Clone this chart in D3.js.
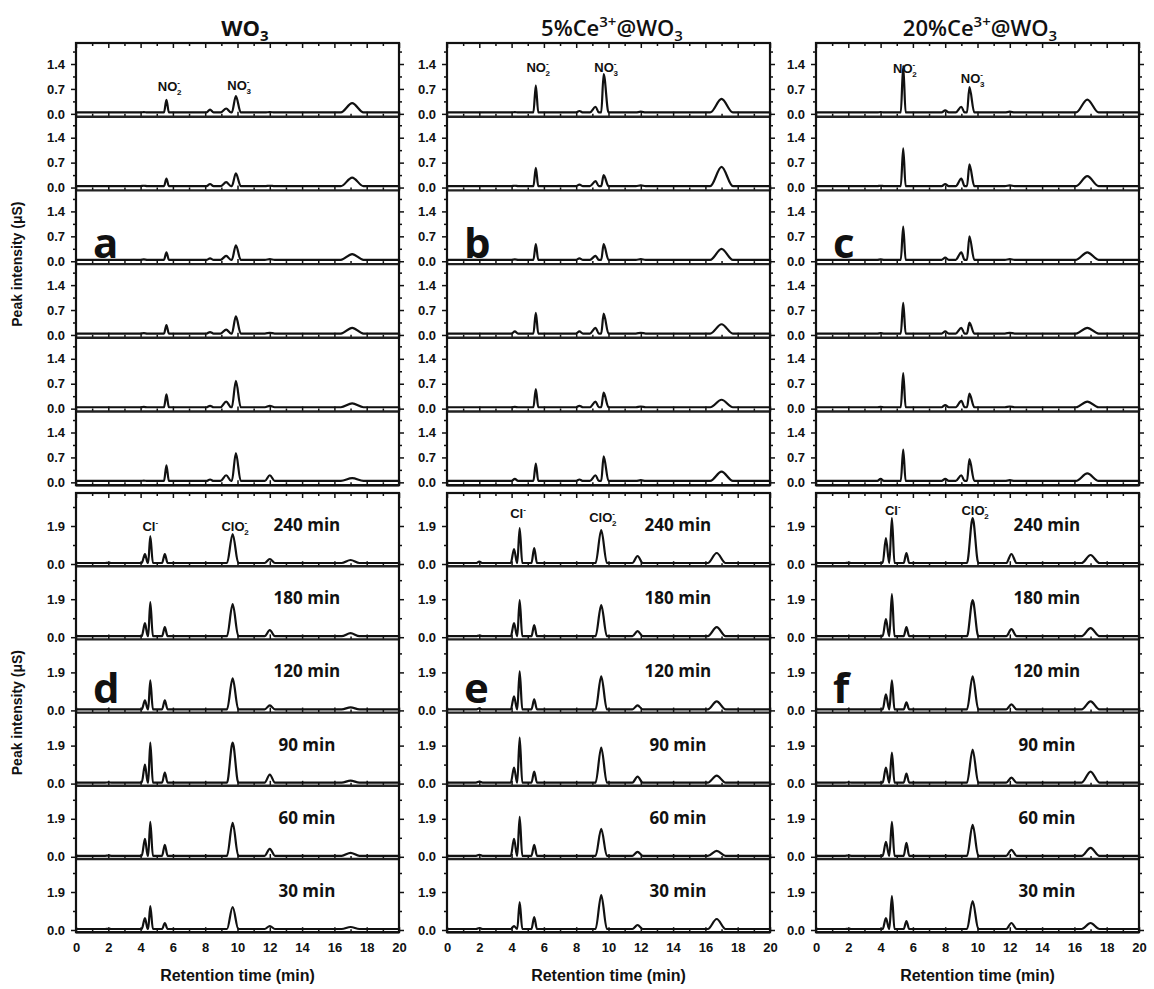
<!DOCTYPE html>
<html>
<head>
<meta charset="utf-8">
<script src="https://cdn.jsdelivr.net/npm/d3@7"></script>
<style>
  body { margin: 0; background: #fff; }
  svg { display: block; }
</style>
</head>
<body>
<svg id="chart" width="1154" height="989"></svg>
<script>
// ---- Datos ----
var xTicks = [0, 2, 4, 6, 8, 10, 12, 14, 16, 18, 20];
var xMinor = [1, 3, 5, 7, 9, 11, 13, 15, 17, 19];
var topTicks = [0.0, 0.7, 1.4];
var topMinor = [0.35, 1.05, 1.75];
var botTicks = [0.0, 1.9];
var botMinor = [0.95, 2.85];

var topLetters = ["a", "b", "c"];
var botLetters = ["d", "e", "f"];
var timeLabels = ["240 min", "180 min", "120 min", "90 min", "60 min", "30 min"];

// tiempos de retención de los picos (min) - bloque superior (NO2-, NO3-)
var topPeakTimes = [
  [4.2, 5.6, 8.3, 9.3, 9.9, 12.0, 17.1],
  [4.2, 5.5, 8.2, 9.2, 9.7, 12.0, 17.0],
  [4.0, 5.4, 8.0, 9.0, 9.5, 12.0, 16.8]
];
var topPeakWidths = [0.2, 0.15, 0.22, 0.35, 0.3, 0.3, 0.7];

// alturas de pico (µS), una fila por tiempo de reacción
var topWO3 = [
  [0.05, 0.39, 0.12, 0.15, 0.50, 0.05, 0.30],
  [0.05, 0.25, 0.10, 0.15, 0.40, 0.05, 0.28],
  [0.05, 0.25, 0.08, 0.15, 0.45, 0.06, 0.20],
  [0.05, 0.28, 0.08, 0.15, 0.52, 0.06, 0.20],
  [0.05, 0.40, 0.08, 0.20, 0.78, 0.08, 0.15],
  [0.05, 0.48, 0.08, 0.20, 0.82, 0.20, 0.12]
];
var top5Ce = [
  [0.05, 0.80, 0.08, 0.20, 1.12, 0.06, 0.42],
  [0.05, 0.55, 0.08, 0.18, 0.35, 0.06, 0.58],
  [0.05, 0.48, 0.08, 0.15, 0.48, 0.06, 0.35],
  [0.10, 0.62, 0.10, 0.20, 0.60, 0.06, 0.30],
  [0.05, 0.55, 0.08, 0.20, 0.45, 0.06, 0.25],
  [0.10, 0.53, 0.08, 0.20, 0.73, 0.06, 0.30]
];
var top20Ce = [
  [0.05, 1.35, 0.10, 0.20, 0.75, 0.06, 0.40],
  [0.05, 1.10, 0.10, 0.25, 0.65, 0.06, 0.32],
  [0.05, 0.97, 0.10, 0.25, 0.70, 0.06, 0.25],
  [0.05, 0.90, 0.10, 0.20, 0.35, 0.06, 0.20],
  [0.05, 1.00, 0.10, 0.22, 0.42, 0.06, 0.20],
  [0.10, 0.92, 0.10, 0.20, 0.65, 0.06, 0.25]
];

// bloque inferior (Cl-, ClO2-)
var botPeakTimes = [
  [2.0, 4.27, 4.6, 5.5, 9.7, 12.0, 17.0],
  [2.0, 4.15, 4.5, 5.4, 9.55, 11.8, 16.7],
  [2.0, 4.33, 4.7, 5.6, 9.7, 12.1, 17.0]
];
var botPeakWidths = [0.2, 0.2, 0.16, 0.17, 0.35, 0.32, 0.55];

var botWO3 = [
  [0.06, 0.50, 1.40, 0.50, 1.50, 0.25, 0.20],
  [0.06, 0.70, 1.75, 0.50, 1.65, 0.35, 0.20],
  [0.06, 0.50, 1.50, 0.50, 1.60, 0.25, 0.15],
  [0.06, 0.95, 2.05, 0.55, 2.05, 0.45, 0.15],
  [0.06, 0.90, 1.75, 0.60, 1.70, 0.40, 0.20],
  [0.06, 0.60, 1.20, 0.35, 1.15, 0.20, 0.15]
];
var bot5Ce = [
  [0.12, 0.75, 1.80, 0.80, 1.70, 0.40, 0.55],
  [0.08, 0.70, 1.85, 0.60, 1.60, 0.30, 0.50],
  [0.10, 0.70, 1.95, 0.55, 1.70, 0.25, 0.45],
  [0.10, 0.80, 2.30, 0.60, 1.80, 0.35, 0.40],
  [0.10, 0.90, 2.00, 0.60, 1.40, 0.25, 0.30],
  [0.10, 0.20, 1.40, 0.65, 1.75, 0.25, 0.55]
];
var bot20Ce = [
  [0.06, 1.30, 2.30, 0.55, 2.30, 0.50, 0.45],
  [0.06, 0.90, 2.15, 0.50, 1.85, 0.40, 0.45],
  [0.06, 0.80, 1.50, 0.40, 1.70, 0.30, 0.45],
  [0.06, 0.80, 1.55, 0.50, 1.70, 0.30, 0.60],
  [0.06, 0.75, 1.75, 0.70, 1.60, 0.35, 0.45],
  [0.06, 0.60, 1.70, 0.45, 1.45, 0.35, 0.35]
];

var topHeights = [topWO3, top5Ce, top20Ce];
var botHeights = [botWO3, bot5Ce, bot20Ce];
var topBase = 0.04, botBase = 0.05;

// ---- Disposición ----
var svg = d3.select("#chart");
var colLeft = [76, 447, 816], plotW = 323;
var topY0 = 43, topRowH = 73.7, botY0 = 493, botRowH = 73.2;
var titleX = [245, 612, 980];

var x = d3.scaleLinear().domain([0, 20]).range([0, plotW]);
var yTop = d3.scaleLinear().domain([-0.08, 1.99]).range([topRowH, 0]);
var yBot = d3.scaleLinear().domain([-0.11, 3.55]).range([botRowH, 0]);

var line = d3.line()
    .x(d => x(d[0]))
    .y(d => d[1])
    .curve(d3.curveMonotoneX);

// vértices de la traza a partir de los picos leídos
function tracePoints(times, widths, heights, base) {
    var pts = [[0, base], [20, base]];
    times.forEach(function(t, i) {
        pts.push([t - widths[i], base], [t, heights[i]], [t + widths[i], base]);
    });
    pts.sort((a, b) => a[0] - b[0]);
    return pts;
}

function styleAxis(g) {
    g.select(".domain").remove();
    g.selectAll("line").attr("stroke", "#111").attr("stroke-width", 1.5);
    g.selectAll("text")
        .attr("font-family", "Liberation Sans, Arial, sans-serif")
        .attr("font-weight", "bold")
        .attr("font-size", 13)
        .attr("fill", "#111");
}

function drawBlock(c, y0, rowH, y, ticks, minor, times, widths, heights, base, isBottom) {
    var block = svg.append("g").attr("transform", "translate(" + colLeft[c] + "," + y0 + ")");

    heights.forEach(function(h, r) {
        var row = block.append("g").attr("transform", "translate(0," + (r * rowH) + ")");

        // ticks del eje x hacia dentro
        row.append("g").attr("transform", "translate(0," + rowH + ")")
            .call(d3.axisTop(x).tickValues(xTicks).tickSize(5).tickFormat(""))
            .call(styleAxis);
        row.append("g").attr("transform", "translate(0," + rowH + ")")
            .call(d3.axisTop(x).tickValues(xMinor).tickSize(3).tickFormat(""))
            .call(styleAxis);
        if (r === 0) {
            row.append("g")
                .call(d3.axisBottom(x).tickValues(xTicks).tickSize(5).tickFormat(""))
                .call(styleAxis);
            row.append("g")
                .call(d3.axisBottom(x).tickValues(xMinor).tickSize(3).tickFormat(""))
                .call(styleAxis);
        }

        // ejes y
        row.append("g")
            .call(d3.axisLeft(y).tickValues(ticks).tickSize(5).tickPadding(6).tickFormat(d3.format(".1f")))
            .call(styleAxis);
        row.append("g")
            .call(d3.axisLeft(y).tickValues(minor).tickSize(3).tickFormat(""))
            .call(styleAxis);
        row.append("g").attr("transform", "translate(" + plotW + ",0)")
            .call(d3.axisRight(y).tickValues(ticks).tickSize(5).tickFormat(""))
            .call(styleAxis);
        row.append("g").attr("transform", "translate(" + plotW + ",0)")
            .call(d3.axisRight(y).tickValues(minor).tickSize(3).tickFormat(""))
            .call(styleAxis);

        // cromatograma
        var pts = tracePoints(times, widths, h, base).map(p => [p[0], y(p[1])]);
        row.append("path")
            .attr("d", line(pts))
            .attr("fill", "none")
            .attr("stroke", "#111")
            .attr("stroke-width", 2.2)
            .attr("stroke-linejoin", "round");

        // separador entre filas
        row.append("line")
            .attr("x1", 0).attr("x2", plotW)
            .attr("y1", rowH).attr("y2", rowH)
            .attr("stroke", "#222").attr("stroke-width", 2.4);

        if (isBottom) {
            row.append("text")
                .attr("x", x(14.3)).attr("y", y(1.65))
                .attr("text-anchor", "middle")
                .attr("font-family", "Open Sans, sans-serif")
                .attr("font-weight", "bold")
                .attr("font-size", 17)
                .attr("fill", "#111")
                .text(timeLabels[r]);
        }
    });

    block.append("rect")
        .attr("width", plotW).attr("height", rowH * heights.length)
        .attr("fill", "none").attr("stroke", "#111").attr("stroke-width", 2.2);
    return block;
}

// etiqueta de ion con subíndice/superíndice apilados
function ionLabel(g, px, py, base, sub) {
    var t = g.append("text")
        .attr("x", px).attr("y", py)
        .attr("text-anchor", "middle")
        .attr("font-family", "Liberation Sans, Arial, sans-serif")
        .attr("font-weight", "bold")
        .attr("font-size", 13)
        .attr("fill", "#111");
    t.append("tspan").text(base);
    t.append("tspan").attr("dy", -6).attr("font-size", 8).text("-");
    if (sub) t.append("tspan").attr("dx", -3).attr("dy", 10).attr("font-size", 8).text(sub);
}

var topIonPos = [[[5.8, 0.65], [10.1, 0.67]], [[5.65, 1.18], [9.85, 1.18]], [[5.5, 1.15], [9.7, 0.87]]];
var botIonPos = [[[4.6, 1.65], [9.85, 1.65]], [[4.4, 2.3], [9.65, 2.1]], [[4.75, 2.45], [9.85, 2.45]]];

for (var c = 0; c < 3; c++) {
    var tb = drawBlock(c, topY0, topRowH, yTop, topTicks, topMinor, topPeakTimes[c], topPeakWidths, topHeights[c], topBase, false);
    var bb = drawBlock(c, botY0, botRowH, yBot, botTicks, botMinor, botPeakTimes[c], botPeakWidths, botHeights[c], botBase, true);

    ionLabel(tb, x(topIonPos[c][0][0]), yTop(topIonPos[c][0][1]), "NO", "2");
    ionLabel(tb, x(topIonPos[c][1][0]), yTop(topIonPos[c][1][1]), "NO", "3");
    ionLabel(bb, x(botIonPos[c][0][0]), yBot(botIonPos[c][0][1]), "Cl", null);
    ionLabel(bb, x(botIonPos[c][1][0]), yBot(botIonPos[c][1][1]), "ClO", "2");

    // letras de panel
    tb.append("text")
        .attr("x", 17).attr("y", 2 * topRowH + 68)
        .attr("font-family", "Open Sans, sans-serif").attr("font-weight", "bold")
        .attr("font-size", 42).attr("fill", "#111")
        .text(topLetters[c]);
    bb.append("text")
        .attr("x", 17).attr("y", 2 * botRowH + 64)
        .attr("font-family", "Open Sans, sans-serif").attr("font-weight", "bold")
        .attr("font-size", 42).attr("fill", "#111")
        .text(botLetters[c]);

    // etiquetas del eje x (solo abajo)
    bb.append("g").attr("transform", "translate(0," + (6 * botRowH) + ")")
        .call(d3.axisBottom(x).tickValues(xTicks).tickSize(0).tickPadding(11).tickFormat(d3.format("d")))
        .call(styleAxis);
    bb.append("text")
        .attr("x", plotW / 2).attr("y", 6 * botRowH + 49)
        .attr("text-anchor", "middle")
        .attr("font-family", "Liberation Sans, Arial, sans-serif")
        .attr("font-weight", "bold").attr("font-size", 16).attr("fill", "#111")
        .text("Retention time (min)");
}

// títulos de columna
var titles = [
    [["WO", 0], ["3", 1]],
    [["5%Ce", 0], ["3+", -1], ["@WO", 0], ["3", 1]],
    [["20%Ce", 0], ["3+", -1], ["@WO", 0], ["3", 1]]
];
titles.forEach(function(parts, c) {
    var t = svg.append("text")
        .attr("x", titleX[c]).attr("y", 36)
        .attr("text-anchor", "middle")
        .attr("font-family", "Open Sans, sans-serif")
        .attr("font-weight", c === 0 ? "bold" : 600)
        .attr("font-size", 22).attr("fill", "#111");
    var shift = 0;
    parts.forEach(function(p) {
        var dy = p[1] === 1 ? 5 : (p[1] === -1 ? -9 : 0);
        t.append("tspan")
            .attr("dy", dy - shift)
            .attr("font-size", p[1] === 0 ? 22 : 15)
            .text(p[0]);
        shift = dy;
    });
});

// títulos del eje y
[[topY0 + 3 * topRowH], [botY0 + 3 * botRowH]].forEach(function(cy) {
    svg.append("text")
        .attr("transform", "translate(22," + cy[0] + ") rotate(-90)")
        .attr("text-anchor", "middle")
        .attr("font-family", "Liberation Sans, Arial, sans-serif")
        .attr("font-weight", "bold").attr("font-size", 14).attr("fill", "#111")
        .text("Peak intensity (\u03BCS)");
});
</script>
</body>
</html>
